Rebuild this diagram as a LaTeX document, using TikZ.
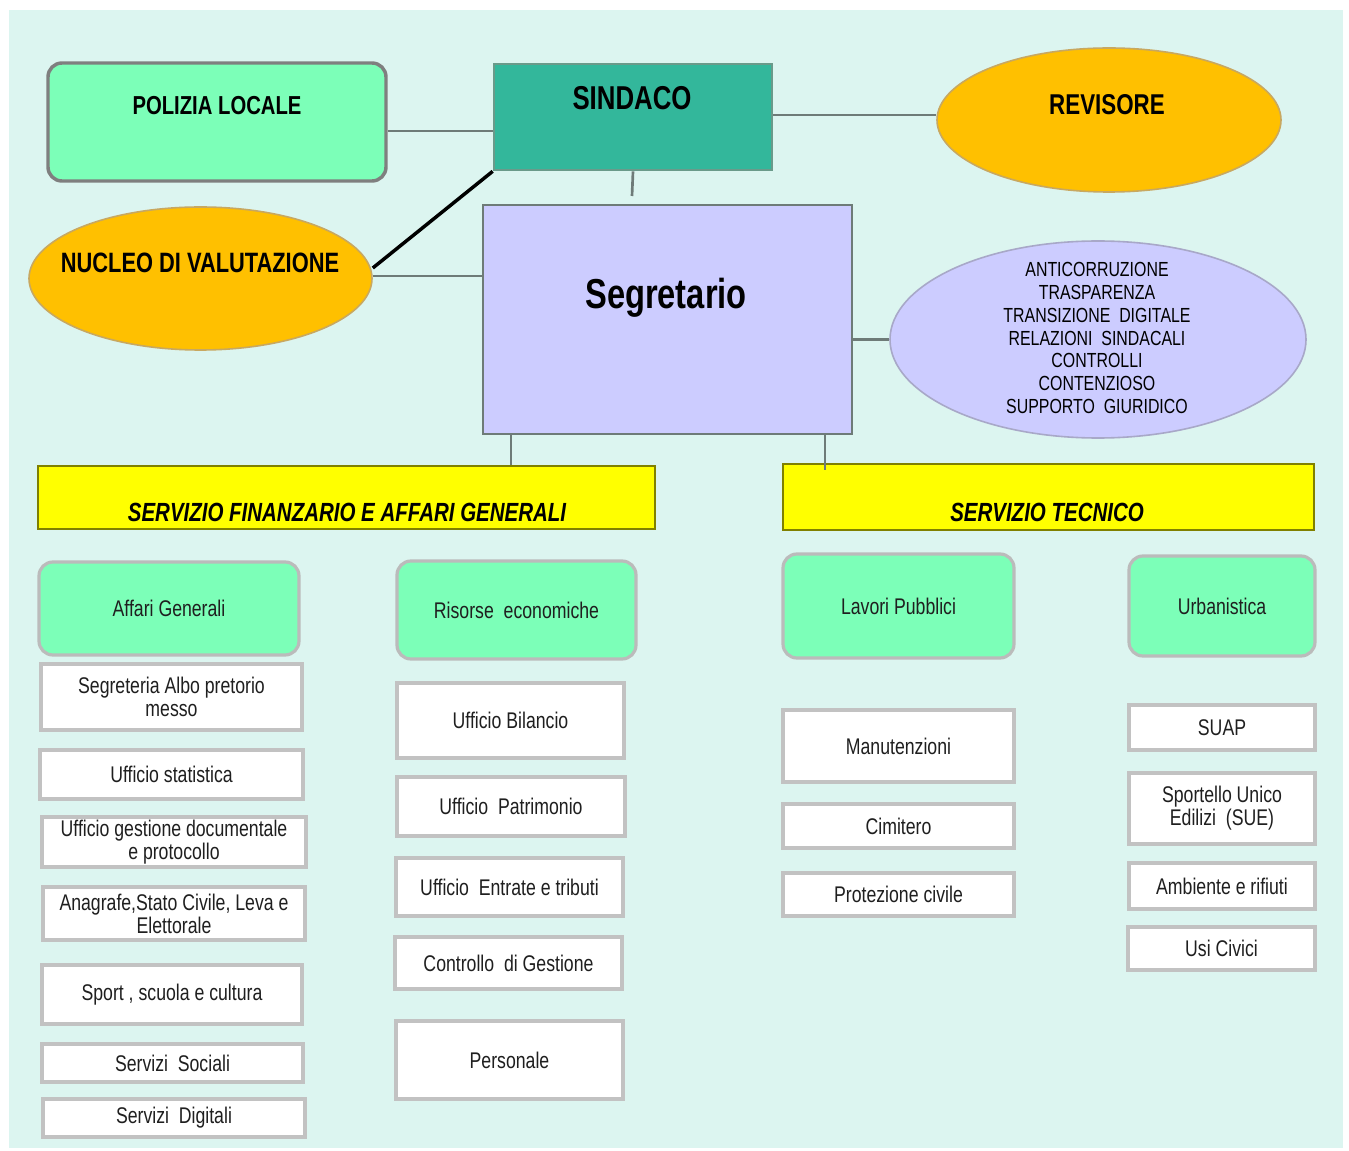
\documentclass[tikz,border=0pt]{standalone}
\usepackage{fontspec}
\setmainfont{Liberation Sans}[FakeStretch=0.78]
\usetikzlibrary{fit,shapes.geometric}
\definecolor{bgc}{HTML}{DCF5F0}
\definecolor{mint}{HTML}{7CFFB8}
\definecolor{teal}{HTML}{33B79B}
\definecolor{tealb}{HTML}{6A9A8A}
\definecolor{orng}{HTML}{FFC000}
\definecolor{orngb}{HTML}{C8A860}
\definecolor{lav}{HTML}{CCCCFF}
\definecolor{lavb}{HTML}{A8A8C8}
\definecolor{yel}{HTML}{FFFF00}
\definecolor{olive}{HTML}{808000}
\definecolor{linec}{HTML}{6E7B78}
\definecolor{boxgray}{HTML}{C2C2C2}
\definecolor{ggray}{HTML}{BBBBBB}
\definecolor{dgray}{HTML}{7F7F7F}
\tikzset{
  conn/.style={draw=linec, line width=2pt},
  lab/.style={font=\fontsize{17pt}{17.3pt}\selectfont, align=center, inner sep=0pt, text=black!88},
  wbox/.style={draw=boxgray, line width=3pt, fill=white, inner sep=0pt},
  gbox/.style={draw=ggray, line width=2.4pt, fill=mint, rounded corners=10.5pt, inner sep=0pt},
  ybox/.style={draw=olive, line width=2.2pt, fill=yel, inner sep=0pt},
  ylab/.style={font=\fontsize{19.7pt}{20pt}\selectfont\bfseries\itshape, inner sep=0pt},
  oell/.style={ellipse, draw=orngb, line width=1.2pt, fill=orng, inner sep=0pt},
}
\begin{document}
\begin{tikzpicture}[x=0.75pt,y=-0.75pt]
\useasboundingbox (0,0) rectangle (1349,1151);
\fill[bgc] (9,10) rectangle (1343,1148);

% top level
\node[draw=dgray, line width=2.6pt, fill=mint, rounded corners=10.5pt, inner sep=0pt, fit={(48,63) (386,181)}] (pol) {};
\node[font=\fontsize{19.5pt}{20pt}\selectfont\bfseries, inner sep=0pt] (polt) at (217,106) {POLIZIA LOCALE};

\node[draw=tealb, line width=2pt, fill=teal, inner sep=0pt, fit={(494,64) (772,170)}] (sin) {};
\node[font=\fontsize{24.8pt}{25pt}\selectfont\bfseries, inner sep=0pt] (sint) at (632,98) {SINDACO};

\node[oell, minimum width=258pt, minimum height=108pt] (rev) at (1109,120) {};
\node[font=\fontsize{21.5pt}{22pt}\selectfont\bfseries, inner sep=0pt] (revt) at (1107,105) {REVISORE};

\node[oell, minimum width=257.25pt, minimum height=107.25pt] (nuc) at (200.5,278.5) {};
\node[font=\fontsize{21pt}{22pt}\selectfont\bfseries, inner sep=0pt] (nuct) at (200,263) {NUCLEO DI VALUTAZIONE};

\node[draw=linec, line width=2pt, fill=lav, inner sep=0pt, fit={(483,205) (852,434)}] (seg) {};
\node[font=\fontsize{31.4pt}{32pt}\selectfont\bfseries, inner sep=0pt] (segt) at (666,298) {Segretario};

\node[ellipse, draw=lavb, line width=1.2pt, fill=lav, inner sep=0pt, minimum width=312pt, minimum height=147.75pt] (ant) at (1098,339.5) {};
\node[font=\fontsize{15.3pt}{17.1pt}\selectfont, align=center, inner sep=0pt] (antt) at (1097,338) {ANTICORRUZIONE\\TRASPARENZA\\TRANSIZIONE~ DIGITALE\\RELAZIONI~ SINDACALI\\CONTROLLI\\CONTENZIOSO\\SUPPORTO~ GIURIDICO};

\node[ybox, fit={(38,466) (655,529)}] (fin) {};
\node[ylab] (fint) at (347,512) {SERVIZIO FINANZARIO E AFFARI GENERALI};
\node[ybox, fit={(783,464) (1314,530)}] (tec) {};
\node[ylab] (tect) at (1047,512) {SERVIZIO TECNICO};

% connectors
\coordinate (sinend) at (632,196);
\coordinate (tecend) at (825,470);
\draw[conn] (pol.east |- 0,131) -- (sin.west |- 0,131);
\draw[conn] (sin.east |- 0,115) -- (rev.west |- 0,115);
\draw[black, line width=2.6pt] (nuc.east |- 0,268) -- (sin.south west);
\draw[conn] (nuc.east |- 0,276) -- (seg.west |- 0,276);
\draw[conn] (sin.south) -- (sinend);
\draw[conn] (seg.east |- ant.west) -- (ant.west);
\draw[conn] (seg.south -| 511,0) -- (fin.north -| 511,0);
\draw[conn] (seg.south -| 825,0) -- (tecend);

% second level headers
\node[gbox, fit={(39,562) (299,655)}, label={[lab]center:Affari Generali}] (ag) {};
\node[gbox, fit={(397,561) (636,659)}, label={[lab]center:Risorse~ economiche}] (re) {};
\node[gbox, fit={(783,554) (1014,658)}, label={[lab]center:Lavori Pubblici}] (lp) {};
\node[gbox, fit={(1129,556) (1315,656)}, label={[lab]center:Urbanistica}] (ur) {};

% column 1
\node[wbox, fit={(41,664) (302,730)}, label={[lab]center:Segreteria Albo pretorio\\messo}] (c11) {};
\node[wbox, fit={(40,750) (303,799)}, label={[lab]center:Ufficio statistica}] (c12) {};
\node[wbox, fit={(42,817) (306,867)}, label={[lab]center:Ufficio gestione documentale\\e protocollo}] (c13) {};
\node[wbox, fit={(43,887) (305,940)}, label={[lab]center:Anagrafe,Stato Civile, Leva e\\Elettorale}] (c14) {};
\node[wbox, fit={(42,965) (302,1024)}, label={[lab]center:Sport , scuola e cultura}] (c15) {};
\node[wbox, fit={(42,1044) (303,1082)}, label={[lab]center:Servizi~ Sociali}] (c16) {};
\node[wbox, fit={(43,1099) (305,1137)}, label={[lab]center:Servizi~ Digitali}] (c17) {};

% column 2
\node[wbox, fit={(397,683) (624,758)}, label={[lab]center:Ufficio Bilancio}] (c21) {};
\node[wbox, fit={(397,777) (625,836)}, label={[lab]center:Ufficio~ Patrimonio}] (c22) {};
\node[wbox, fit={(396,858) (623,916)}, label={[lab]center:Ufficio~ Entrate e tributi}] (c23) {};
\node[wbox, fit={(395,937) (622,989)}, label={[lab]center:Controllo~ di Gestione}] (c24) {};
\node[wbox, fit={(396,1021) (623,1099)}, label={[lab]center:Personale}] (c25) {};

% column 3
\node[wbox, fit={(783,710) (1014,782)}, label={[lab]center:Manutenzioni}] (c31) {};
\node[wbox, fit={(783,804) (1014,848)}, label={[lab]center:Cimitero}] (c32) {};
\node[wbox, fit={(783,873) (1014,916)}, label={[lab]center:Protezione civile}] (c33) {};

% column 4
\node[wbox, fit={(1129,705) (1315,750)}, label={[lab]center:SUAP}] (c41) {};
\node[wbox, fit={(1129,773) (1315,844)}, label={[lab]center:Sportello Unico\\Edilizi~ (SUE)}] (c42) {};
\node[wbox, fit={(1129,863) (1315,909)}, label={[lab]center:Ambiente e rifiuti}] (c43) {};
\node[wbox, fit={(1128,927) (1315,970)}, label={[lab]center:Usi Civici}] (c44) {};
\end{tikzpicture}
\end{document}
